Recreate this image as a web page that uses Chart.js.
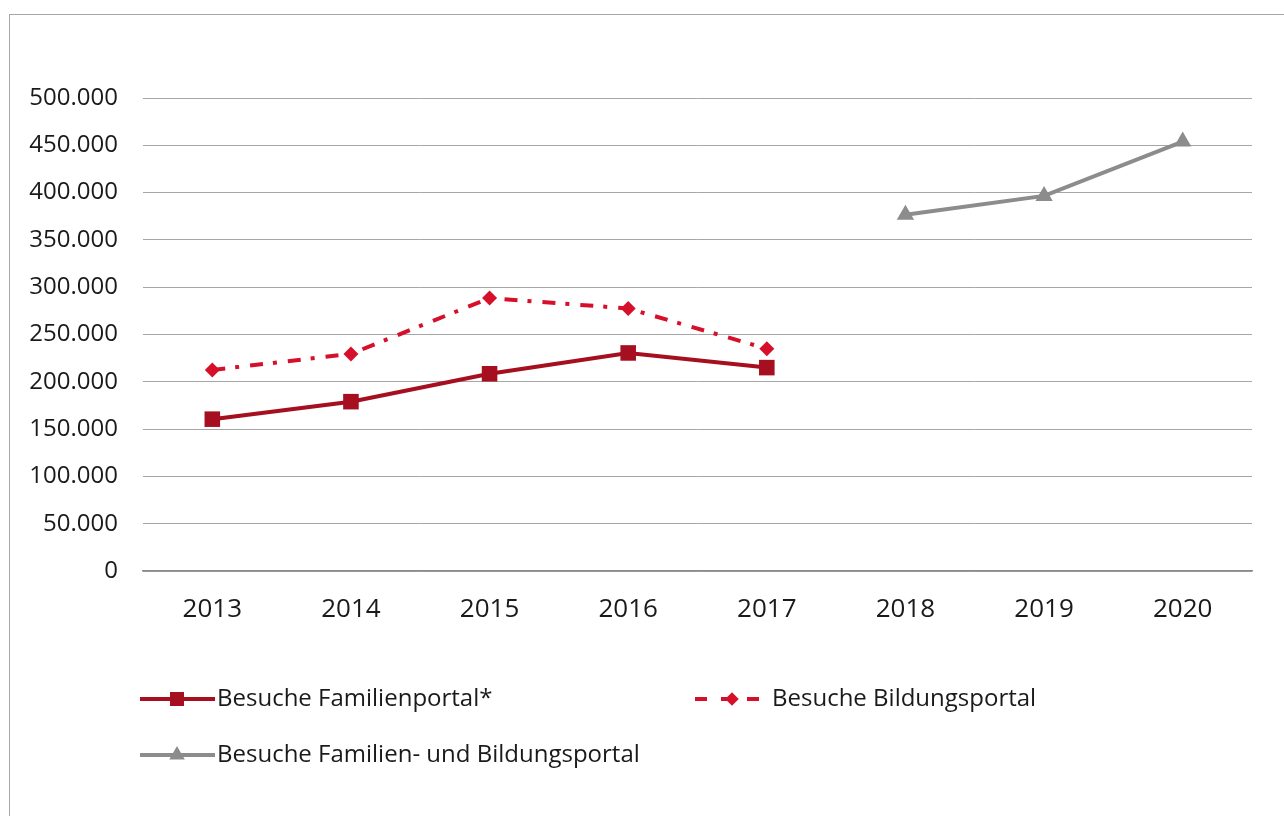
<!DOCTYPE html>
<html>
<head>
<meta charset="utf-8">
<script src="https://cdn.jsdelivr.net/npm/chart.js@4/dist/chart.umd.min.js"></script>
<style>
  html, body { margin: 0; padding: 0; background: #fff; overflow: hidden; }
  #frame { position: absolute; left: 9px; top: 14px; width: 1400px; height: 1000px; border: 1px solid #a6a6a6; }
  #wrap { position: absolute; left: 0; top: 0; width: 1284px; height: 816px; }
</style>
</head>
<body>
<div id="frame"></div>
<div id="wrap"><canvas id="chart" width="1284" height="816"></canvas></div>
<script>
const years = ['2013', '2014', '2015', '2016', '2017', '2018', '2019', '2020'];
const familienportal = [160500, 179000, 208500, 230500, 215000, null, null, null];
const bildungsportal = [212500, 229500, 288500, 277500, 235000, null, null, null];
const kombiniert = [null, null, null, null, null, 376500, 396500, 454000];
const yTicks = [0, 50000, 100000, 150000, 200000, 250000, 300000, 350000, 400000, 450000, 500000];

const FONT = '"Open Sans", sans-serif';
const fmt = v => String(v).replace(/\B(?=(\d{3})+(?!\d))/g, '.');

const datasets = [
  { label: 'Besuche Familienportal*', data: familienportal, borderColor: '#a50f1f', backgroundColor: '#a50f1f',
    borderWidth: 4, pointStyle: 'rect', pointRadius: 11, pointHoverRadius: 11, pointBorderWidth: 0 },
  { label: 'Besuche Bildungsportal', data: bildungsportal, borderColor: '#d6102a', backgroundColor: '#d6102a',
    borderWidth: 4, borderDash: [13, 10, 4, 11], pointStyle: 'rectRot', pointRadius: 7.5, pointHoverRadius: 7.5, pointBorderWidth: 0 },
  { label: 'Besuche Familien- und Bildungsportal', data: kombiniert, borderColor: '#8c8c8c', backgroundColor: '#8c8c8c',
    borderWidth: 4, pointStyle: 'triangle', pointRadius: 10, pointHoverRadius: 10, pointBorderWidth: 0 }
];

// legend drawn by hand: two columns like the original
const legendPlugin = {
  id: 'customLegend',
  afterDraw(chart) {
    const ctx = chart.ctx;
    const spots = [[140, 699], [695, 699], [140, 755]];
    chart.data.datasets.forEach((ds, i) => {
      const [x, y] = spots[i];
      ctx.save();
      ctx.strokeStyle = ds.borderColor;
      ctx.lineWidth = ds.borderWidth;
      if (ds.borderDash) ctx.setLineDash([12, 14]);
      ctx.beginPath();
      ctx.moveTo(x, y);
      ctx.lineTo(x + 75, y);
      ctx.stroke();
      ctx.setLineDash([]);
      ctx.fillStyle = ds.backgroundColor;
      Chart.helpers.drawPoint(ctx, { pointStyle: ds.pointStyle, radius: ds.pointRadius * 0.9, borderWidth: 0 }, x + 37, y);
      ctx.fillStyle = '#1a1a1a';
      ctx.font = '24px ' + FONT;
      ctx.textBaseline = 'middle';
      ctx.fillText(ds.label, x + 77, y);
      ctx.restore();
    });
  }
};

new Chart(document.getElementById('chart'), {
  type: 'line',
  data: { labels: years, datasets },
  options: {
    responsive: false,
    animation: false,
    spanGaps: false,
    layout: { padding: { left: 0, top: 98, right: 32, bottom: 0 } },
    plugins: { legend: { display: false }, tooltip: { enabled: false } },
    scales: {
      x: {
        offset: true,
        grid: { display: false, drawTicks: false },
        border: { display: true, color: '#8a8a8a', width: 1.5 },
        ticks: { color: '#1a1a1a', font: { family: FONT, size: 26 }, padding: 23, maxRotation: 0 },
        afterFit: s => { s.height = 245; }
      },
      y: {
        min: 0, max: 500000,
        afterBuildTicks: s => { s.ticks = yTicks.map(v => ({ value: v })); },
        grid: { color: '#a6a6a6', lineWidth: 1, drawTicks: false },
        border: { display: false },
        ticks: { color: '#1a1a1a', font: { family: FONT, size: 24 }, padding: 25, callback: v => fmt(v) },
        afterFit: s => { s.width = 143; }
      }
    }
  },
  plugins: [legendPlugin]
});
</script>
</body>
</html>
